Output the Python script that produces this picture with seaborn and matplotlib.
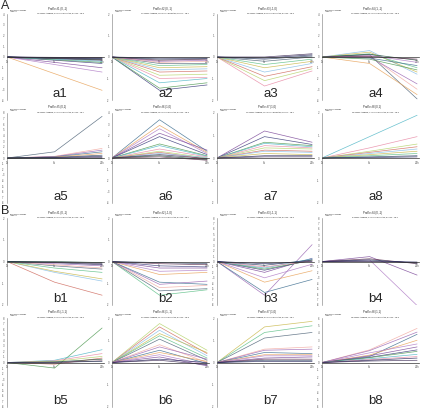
import numpy as np
import pandas as pd
import matplotlib
matplotlib.use('Agg')
import matplotlib.pyplot as plt
import seaborn as sns

sns.set_style('white')
plt.rcParams['font.family'] = ['Liberation Sans', 'DejaVu Sans']

# ------------------------------------------------------------
# Data: value of each gene profile at time point 1 and 2
# (time point 0 is always 0, log ratio vs. start)
# ------------------------------------------------------------
time_labels = ['0h', '6h', '24h']

a1_mid = [-1.55, -0.7, -0.5, -0.3, -0.25, -0.2, -0.15, -0.12, -0.1, -0.08, -0.05, -0.03]
a1_end = [-3.1, -1.4, -1.0, -0.6, -0.5, -0.4, -0.3, -0.25, -0.2, -0.15, -0.1, -0.05]

a2_mid = [-1.55, -1.45, -1.2, -1.0, -0.85, -0.7, -0.6, -0.5, -0.4, -0.3, -0.25, -0.2, -0.15, -0.1, -0.05]
a2_end = [-1.3, -1.2, -1.0, -0.95, -0.8, -0.65, -0.55, -0.45, -0.35, -0.3, -0.2, -0.15, -0.1, -0.08, -0.05]

a3_mid = [-1.35, -1.1, -0.9, -0.7, -0.5, -0.35, -0.2, -0.1, -0.05, 0.0]
a3_end = [-0.65, -0.55, -0.45, -0.3, -0.2, -0.1, 0.0, 0.05, 0.1, 0.15]

a4_mid = [0.6, 0.45, 0.3, 0.2, 0.1, 0.0, -0.1, -0.6, 0.15, 0.25, 0.05, -0.2]
a4_end = [-1.6, -1.4, -1.0, -3.9, -3.0, -2.5, -0.8, -3.5, -0.5, -0.3, -0.2, -1.2]

a5_mid = [1.1, 0.3, 0.25, 0.2, 0.15, 0.1, 0.05, 0.0, -0.05]
a5_end = [7.4, 1.7, 1.4, 1.1, 0.8, 0.5, 0.3, 0.1, -0.1]

a6_mid = [3.4, 2.9, 2.6, 2.2, 1.9, 1.25, 1.1, 0.8, 0.6, 0.5, 0.4, 0.3, 0.2, 0.1]
a6_end = [0.6, 0.5, 0.4, 0.7, 0.3, 0.2, 0.15, 0.1, 0.0, -0.1, 0.05, -0.05, -0.15, -0.2]

a7_mid = [1.2, 0.95, 0.7, 0.65, 0.55, 0.45, 0.35, 0.3, 0.2, 0.1, 0.05]
a7_end = [0.7, 0.6, 0.55, 0.5, 0.45, 0.4, 0.3, 0.25, 0.15, 0.1, 0.05]

a8_mid = [0.95, 0.45, 0.3, 0.25, 0.2, 0.15, 0.1, 0.05, 0.02]
a8_end = [1.9, 0.95, 0.62, 0.5, 0.4, 0.3, 0.2, 0.1, 0.05]

b1_mid = [-0.95, -0.5, -0.45, -0.3, -0.2, -0.15, -0.1, -0.05, -0.03, 0.0]
b1_end = [-1.55, -0.9, -0.8, -0.5, -0.35, -0.3, -0.2, -0.15, -0.1, -0.05]

b2_mid = [-1.55, -1.35, -1.2, -1.05, -0.95, -0.6, -0.45, -0.3, -0.2, -0.1, -0.05]
b2_end = [-1.3, -1.25, -1.1, -0.9, -1.05, -0.5, -0.4, -0.3, -0.25, -0.15, -0.1]

b3_mid = [-6.2, -5.7, -3.8, -3.0, -2.0, -1.6, -1.4, -1.2, -1.0, -0.7, -0.4]
b3_end = [3.1, -3.3, -1.7, -0.5, 0.6, 0.3, 0.2, 0.5, 0.1, 0.3, 0.0]

b4_mid = [0.3, 0.9, 0.5, 0.3, 0.1, 0.0]
b4_end = [-8.1, -2.5, -0.4, -0.3, -0.1, -0.2]

b5_mid = [-1.0, 0.4, 0.3, 0.2, -0.3, 0.1, 0.0, 0.05]
b5_end = [6.2, 2.3, 1.6, 1.1, 0.8, 0.6, 0.3, 0.2]

b6_mid = [1.75, 1.6, 1.45, 1.3, 1.2, 1.05, 0.8, 0.7, 0.55, 0.45, 0.35, 0.25, 0.15, 0.1]
b6_end = [0.55, 0.4, 0.3, 0.45, 0.2, 0.1, 0.0, 0.15, -0.05, 0.05, -0.1, -0.15, 0.0, -0.1]

b7_mid = [1.6, 1.35, 1.1, 0.6, 0.55, 0.45, 0.35, 0.3, 0.2, 0.15, 0.1, 0.05]
b7_end = [1.85, 1.65, 1.35, 0.7, 0.6, 0.4, 0.35, 0.3, 0.25, 0.15, 0.1, 0.05]

b8_mid = [1.7, 1.6, 0.8, 1.0, 1.3, 0.9, 0.7, 0.65, 0.5, 0.4, 0.3, 0.2]
b8_end = [4.6, 4.1, 3.8, 3.0, 2.5, 2.1, 1.7, 1.5, 1.1, 0.8, 0.6, 0.3]

panel_names = ['a1', 'a2', 'a3', 'a4', 'a5', 'a6', 'a7', 'a8',
               'b1', 'b2', 'b3', 'b4', 'b5', 'b6', 'b7', 'b8']
panel_mids = [a1_mid, a2_mid, a3_mid, a4_mid, a5_mid, a6_mid, a7_mid, a8_mid,
              b1_mid, b2_mid, b3_mid, b4_mid, b5_mid, b6_mid, b7_mid, b8_mid]
panel_ends = [a1_end, a2_end, a3_end, a4_end, a5_end, a6_end, a7_end, a8_end,
              b1_end, b2_end, b3_end, b4_end, b5_end, b6_end, b7_end, b8_end]
panel_ylim = [4, 2, 2, 4, 8, 4, 2, 2,
              2, 2, 8, 8, 8, 2, 2, 6]
profile_ids = ['1 (0,-1)', '2 (0,-1)', '3 (-1,0)', '4 (1,-1)', '5 (0,1)', '6 (1,0)', '7 (1,0)', '8 (0,1)',
               '1 (0,-1)', '2 (-1,0)', '3 (-1,1)', '4 (0,-1)', '5 (-1,1)', '6 (1,-1)', '7 (1,0)', '8 (1,1)']
n_assigned = [12, 47, 35, 41, 18, 52, 44, 29, 22, 38, 31, 9, 16, 57, 26, 48]

line_colors = ['#e8a35a', '#b07cc6', '#7d4a9a', '#3a3a7a', '#4f9a52', '#4fb6c6',
               '#e889a5', '#b5d36a', '#cf6a5e', '#86bde6', '#c9b84a', '#5cbf86',
               '#4f6478', '#f2aaa2', '#9a66b3', '#3c6d8f']
dark_colors = ['#23235a', '#3b2a55', '#1f4a3a', '#5a2a4a', '#2a3f5f']

# ------------------------------------------------------------
# Figure layout (4 x 4 small panels)
# ------------------------------------------------------------
W, H = 425, 412
fig = plt.figure(figsize=(W / 100, H / 100), dpi=100)

col_left = [7, 112, 217, 322]
row_top = [14, 113, 218, 318]
row_bot = [100, 203, 305, 407]
ax_w = 97

for i, name in enumerate(panel_names):
    r, c = divmod(i, 4)
    left = col_left[c] / W
    bottom = 1 - row_bot[r] / H
    height = (row_bot[r] - row_top[r]) / H
    ax = fig.add_axes([left, bottom, ax_w / W, height])

    mids, ends = panel_mids[i], panel_ends[i]
    lim = panel_ylim[i]
    rows = []
    pal = []
    for g, (m, e) in enumerate(zip(mids, ends)):
        for t, v in zip([0, 1, 2], [0.0, m, e]):
            rows.append({'gene': f'g{g}', 't': t, 'v': v})
        # genes that barely move form the dark band around zero
        if max(abs(m), abs(e)) < 0.1 * lim:
            pal.append(dark_colors[(g + i) % len(dark_colors)])
        else:
            pal.append(line_colors[(g + i * 3) % len(line_colors)])
    df = pd.DataFrame(rows)
    sns.lineplot(data=df, x='t', y='v', hue='gene', palette=pal,
                 legend=False, lw=0.5, alpha=0.85, ax=ax)

    # spines first (set_position resets the ticks)
    for s in ['top', 'right']:
        ax.spines[s].set_visible(False)
    ax.spines['left'].set_linewidth(0.4)
    ax.spines['left'].set_color('#777777')
    ax.spines['bottom'].set_position(('data', 0))
    ax.spines['bottom'].set_linewidth(0.5)
    ax.spines['bottom'].set_color('#333333')
    ax.patch.set_alpha(0)

    ax.set_ylim(-lim, lim)
    ax.set_xlim(0, 2.04)
    yt = np.arange(-lim, lim + 1, 1)
    ax.set_yticks(yt)
    ax.set_yticklabels([f'{v:g}' for v in yt])
    ax.set_xticks([0, 1, 2])
    ax.set_xticklabels(time_labels)
    ax.tick_params(axis='both', length=1.5, width=0.3, pad=0.5,
                   colors='#555555', labelsize=2)
    ax.set_xlabel('')
    ax.set_ylabel('')

    ax.text(0.52, 1.04, f'Profile #{profile_ids[i]}', transform=ax.transAxes,
            ha='center', va='bottom', fontsize=2)
    ax.text(0.55, 1.0, f'{n_assigned[i]} Genes Assigned; {n_assigned[i] / 4:.1f} Genes Expected; p-value = 1E-{i % 5 + 3}',
            transform=ax.transAxes, ha='center', va='bottom', fontsize=1.4)
    ax.text(0.03, 1.02, 'Expression Change\n(log2 v0)', transform=ax.transAxes,
            ha='left', va='bottom', fontsize=1.4, linespacing=0.9)
    ax.text(0.55, 0.0, name, transform=ax.transAxes, ha='center', va='bottom',
            fontsize=9.5)

fig.text(1 / W, 1 - 0 / H, 'A', ha='left', va='top', fontsize=9)
fig.text(1 / W, 1 - 205 / H, 'B', ha='left', va='top', fontsize=9)

fig.savefig('out.png', dpi=100)
